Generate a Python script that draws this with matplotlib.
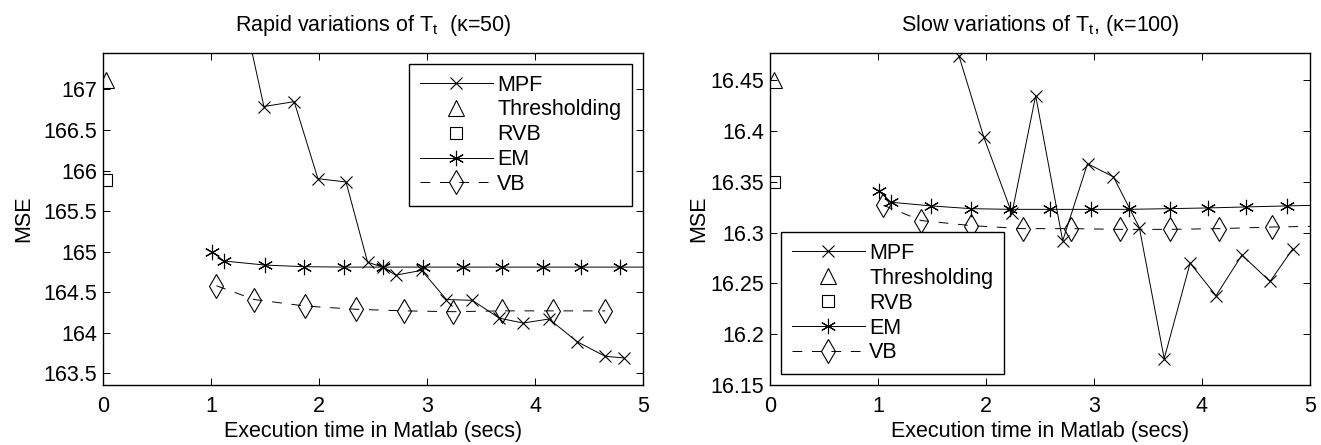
import matplotlib
matplotlib.use("Agg")
import matplotlib.pyplot as plt
from matplotlib.ticker import FormatStrFormatter
import numpy as np

plt.rcParams['font.family'] = ['Liberation Sans', 'DejaVu Sans']
plt.rcParams['mathtext.fontset'] = 'custom'
plt.rcParams['mathtext.rm'] = 'Liberation Sans'
plt.rcParams['lines.scale_dashes'] = False

# ---- left panel: rapid variations (kappa=50)
mpf_t_l = [1.25, 1.49, 1.77, 1.99, 2.25, 2.45, 2.59, 2.71, 2.95, 3.18, 3.42, 3.67, 3.89, 4.13, 4.39, 4.65, 4.82]
mpf_l = [168.25, 166.79, 166.85, 165.90, 165.86, 164.87, 164.81, 164.71, 164.77, 164.41, 164.40, 164.18, 164.12,
         164.17, 163.89, 163.71, 163.69]
em_t_l = [1.01, 1.12, 1.50, 1.86, 2.23, 2.59, 2.96, 3.33, 3.69, 4.07, 4.43, 4.79, 5.15]
em_l = [165.00, 164.885, 164.835, 164.815, 164.81, 164.81, 164.81, 164.81, 164.81, 164.81, 164.81, 164.81, 164.81]
vb_t_l = [1.05, 1.40, 1.87, 2.34, 2.79, 3.24, 3.69, 4.17, 4.65]
vb_l = [164.58, 164.41, 164.33, 164.29, 164.27, 164.26, 164.27, 164.27, 164.27]
thr_l = [0.03, 167.115]
rvb_l = [0.03, 165.88]

# ---- right panel: slow variations (kappa=100)
mpf_t_r = [1.75, 1.98, 2.24, 2.46, 2.71, 2.94, 3.18, 3.42, 3.65, 3.89, 4.13, 4.37, 4.63, 4.84]
mpf_r = [16.474, 16.394, 16.319, 16.435, 16.292, 16.368, 16.355, 16.305, 16.176, 16.270, 16.238, 16.278,
         16.252, 16.284]
em_t_r = [1.01, 1.12, 1.49, 1.86, 2.22, 2.59, 2.97, 3.32, 3.70, 4.06, 4.41, 4.79, 5.15]
em_r = [16.341, 16.330, 16.3264, 16.3237, 16.323, 16.323, 16.323, 16.323, 16.3237, 16.3244, 16.3254, 16.3264,
        16.3272]
vb_t_r = [1.05, 1.40, 1.86, 2.34, 2.79, 3.24, 3.70, 4.16, 4.65, 5.15]
vb_r = [16.327, 16.312, 16.307, 16.304, 16.304, 16.3033, 16.3033, 16.304, 16.3056, 16.3065]
thr_r = [0.04, 16.4507]
rvb_r = [0.04, 16.350]

FS = 15.5


def draw(ax, mt, m, et, e, vt, v, thr, rvb, ylim, yticks, title, loc, ylpad):
    lw = 0.7
    ax.plot(mt, m, '-', color='k', lw=lw, marker='x', ms=9, mew=0.8, label='MPF')
    ax.plot([thr[0]], [thr[1]], ls='none', marker='^', ms=12, mfc='none', mec='k', mew=0.8, label='Thresholding')
    ax.plot([rvb[0]], [rvb[1]], ls='none', marker='s', ms=8, mfc='none', mec='k', mew=0.8, label='RVB')
    ax.plot(et, e, '-', color='k', lw=lw, marker=(6, 2, 0), ms=11, mew=0.8, label='EM')
    ax.plot(vt, v, color='k', lw=lw, dashes=(7, 7), marker='d', ms=12, mfc='none', mec='k', mew=0.8,
            label='VB', markevery=range(9))
    ax.set_xlim(0, 5)
    ax.set_ylim(*ylim)
    ax.set_xticks(range(6))
    ax.set_yticks(yticks)
    ax.yaxis.set_major_formatter(FormatStrFormatter('%g'))
    ax.tick_params(direction='in', top=True, right=True, length=5, width=0.7, labelsize=FS)
    ax.tick_params(axis='x', pad=8)
    ax.tick_params(axis='y', pad=4)
    for s in ax.spines.values():
        s.set_linewidth(1.0)
    ax.set_xlabel('Execution time in Matlab (secs)', fontsize=FS, labelpad=3)
    ax.set_ylabel('MSE', fontsize=FS, labelpad=ylpad)
    ax.set_title(title, fontsize=FS, pad=16)
    leg = ax.legend(loc=loc, fontsize=FS, handlelength=3.4, labelspacing=0.18, borderaxespad=0.5,
                    fancybox=False, framealpha=1, edgecolor='k', borderpad=0.5, handletextpad=0.2)
    leg.get_frame().set_linewidth(1.0)


fig = plt.figure(figsize=(13.21, 4.45), dpi=100)
ax1 = fig.add_axes([103 / 1321, 60 / 445, 540 / 1321, 332 / 445])
ax2 = fig.add_axes([770 / 1321, 60 / 445, 540 / 1321, 332 / 445])

draw(ax1, mpf_t_l, mpf_l, em_t_l, em_l, vb_t_l, vb_l, thr_l, rvb_l,
     (163.356, 167.45), np.arange(163.5, 167.01, 0.5),
     'Rapid variations of T$_\\mathregular{t}$  (κ=50)', 'upper right', 7)
draw(ax2, mpf_t_r, mpf_r, em_t_r, em_r, vb_t_r, vb_r, thr_r, rvb_r,
     (16.15, 16.477), np.arange(16.15, 16.451, 0.05),
     'Slow variations of T$_\\mathregular{t}$, (κ=100)', 'lower left', 1)

fig.savefig('out.png', dpi=100, facecolor='white')
